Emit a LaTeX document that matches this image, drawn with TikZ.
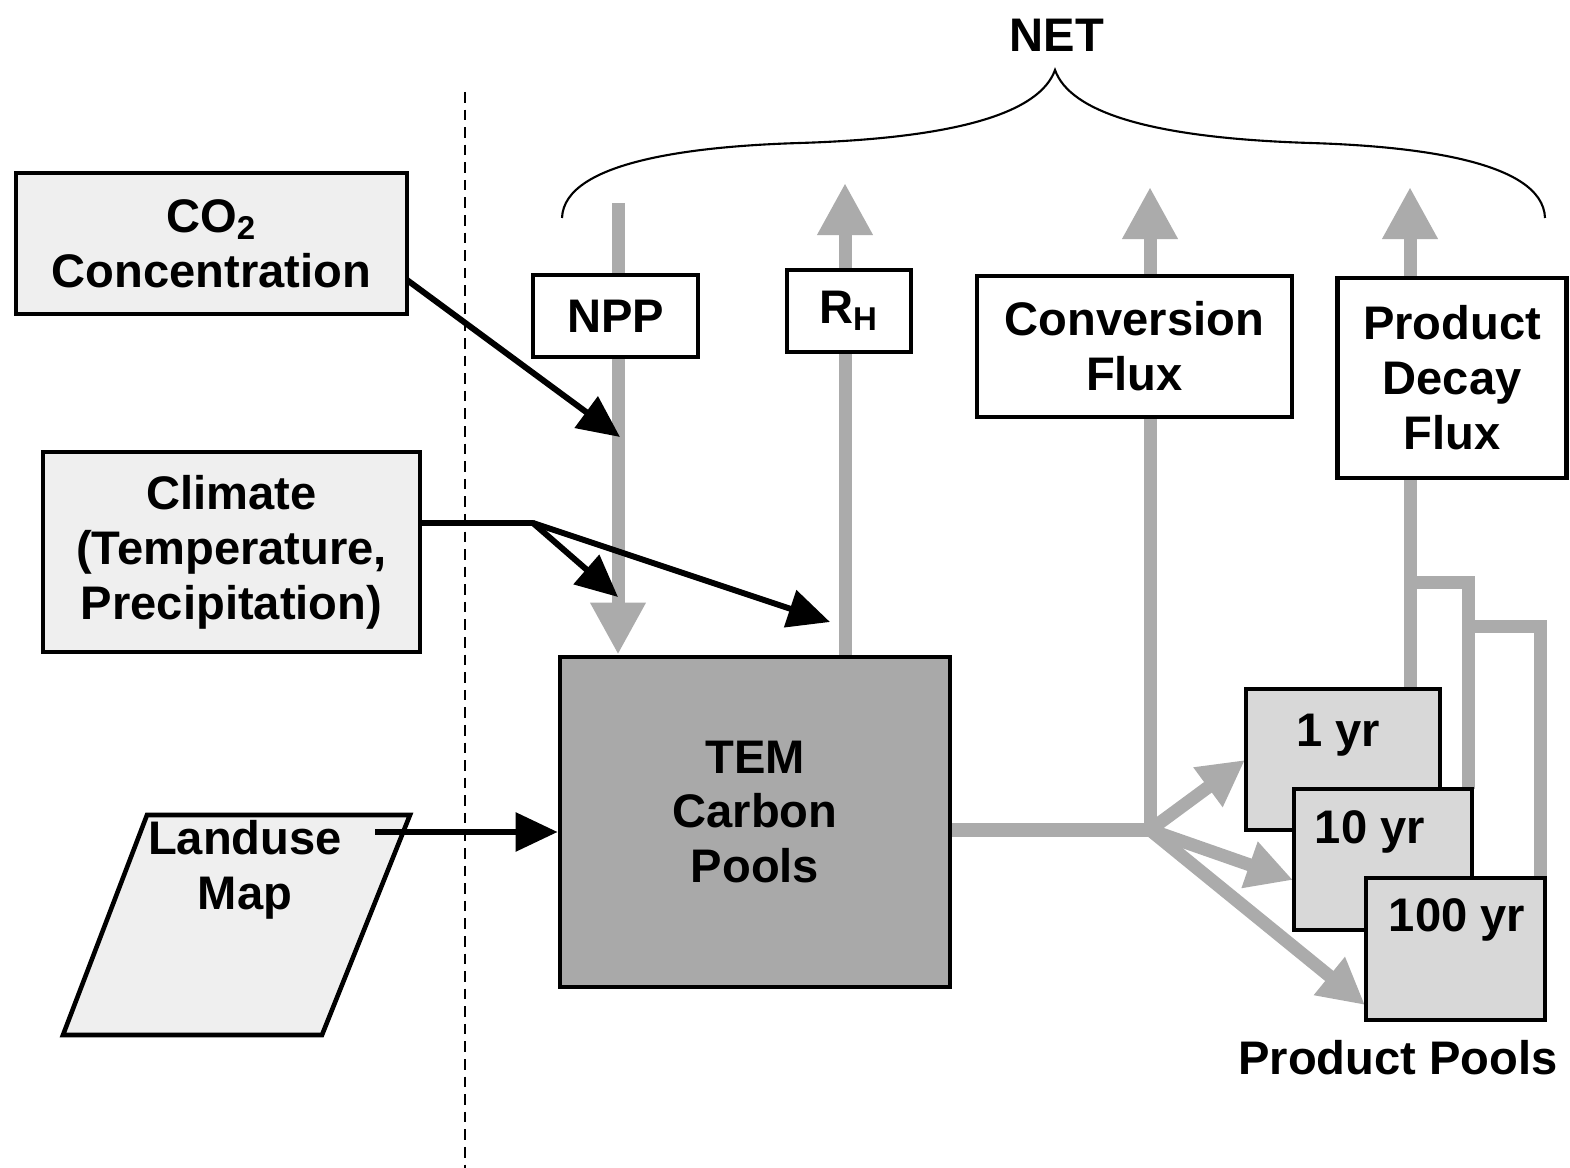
\documentclass[tikz,border=0pt]{standalone}
\usepackage{fontspec}
\setmainfont{Liberation Sans}
\usetikzlibrary{arrows.meta}
\definecolor{fluxgray}{HTML}{ABABAB}
\definecolor{lightbox}{HTML}{EFEFEF}
\definecolor{poolfill}{HTML}{D8D8D8}
\definecolor{temfill}{HTML}{A9A9A9}
\newcommand\diagfont{\fontsize{13.4}{15.6}\selectfont\bfseries}
\tikzset{
  lbl/.style={font=\diagfont, align=center, inner sep=0pt},
  boxed/.style={lbl, draw=black, line width=1.3pt},
  inbox/.style={boxed, fill=lightbox},
  fluxbox/.style={boxed, fill=white},
  poolbox/.style={draw=black, line width=1.3pt, fill=poolfill, inner sep=0pt},
  flux/.style={draw=fluxgray, line width=3.7pt},
  fluxarrow/.style={flux, -{Triangle[length=5.2mm,width=5.2mm]}},
  poolarrow/.style={flux, -{Triangle[length=4.6mm,width=4.6mm]}},
  blk/.style={draw=black, line width=1.7pt, line join=round, -{Triangle[length=4.2mm,width=3.8mm]}},
}
\begin{document}
\begin{tikzpicture}[x=0.01cm,y=-0.01cm]
\useasboundingbox (0,0) rectangle (1570,1168);

% dashed divider
\draw[line width=0.6pt, dash pattern=on 3pt off 2pt] (465,92) -- (465,1168);

% brace
\draw[line width=0.6pt] (562,218) .. controls (564,160) and (700,146) .. (800,143)
  .. controls (960,138) and (1040,112) .. (1055,70)
  .. controls (1070,112) and (1150,138) .. (1310,143)
  .. controls (1410,146) and (1543,160) .. (1545,218);
\node[lbl] (net) at (1057,35) {NET};

% main nodes
\node[boxed, fill=temfill, minimum width=3.9cm, minimum height=3.3cm] (tem) at (755,822) {};
\node[lbl] (temtxt) at (755,812) {TEM\\Carbon\\Pools};

% coordinates
\coordinate (npptop) at (618,203);
\coordinate (J) at (1150,830);
\coordinate (rhtip) at (845,183);
\coordinate (convtip) at (1150,187);
\coordinate (pdftip) at (1410,187);
\coordinate (dec1) at (1410,583);
\coordinate (dec2) at (1468,583);
\coordinate (dec3) at (1468,627);
\coordinate (dec4) at (1540,627);
\coordinate (p1tip) at (1245,760);
\coordinate (p10tip) at (1293,880);
\coordinate (p100tip) at (1365,1005);

% gray flux lines
\draw[fluxarrow] (npptop) -- (npptop |- tem.north);
\draw[fluxarrow] (tem.north -| rhtip) -- (rhtip);
\draw[flux] (J -| tem.east) -- (J);
\draw[fluxarrow] (J) -- (convtip);
\draw[poolarrow] (J) -- (p1tip);
\draw[poolarrow] (J) -- (p10tip);
\draw[poolarrow] (J) -- (p100tip);
\draw[fluxarrow] (1410,689) -- (pdftip);
\draw[flux] (1468,789) -- (dec3) -- (dec2) -- (dec1);
\draw[flux] (1540,878) -- (dec4) -- (dec3);

% flux boxes
\node[fluxbox, minimum width=1.65cm, minimum height=0.82cm] (npp) at (615.5,316) {NPP};
\node[fluxbox, minimum width=1.24cm, minimum height=0.82cm] (rh) at (849,311) {R\textsubscript{H}};
\node[fluxbox, minimum width=3.15cm, minimum height=1.41cm] (conv) at (1134.5,346.5) {Conversion\\Flux};
\node[fluxbox, minimum width=2.29cm, minimum height=2.0cm] (pdf) at (1452,378) {Product\\Decay\\Flux};

% product pools
\node[poolbox, minimum width=1.94cm, minimum height=1.41cm] (p1) at (1343,759.5) {};
\node[lbl] (p1t) at (1338,735) {1 yr};
\node[poolbox, minimum width=1.78cm, minimum height=1.41cm] (p10) at (1383,859.5) {};
\node[lbl] (p10t) at (1370,832) {10 yr};
\node[poolbox, minimum width=1.79cm, minimum height=1.42cm] (p100) at (1455.5,949) {};
\node[lbl] (p100t) at (1457,920) {100 yr};
\node[lbl] (pools) at (1398,1058) {Product Pools};

% input boxes
\node[inbox, minimum width=3.91cm, minimum height=1.41cm] (co2) at (211.5,243.5) {CO\textsubscript{2}\\Concentration};
\node[inbox, minimum width=3.77cm, minimum height=2.0cm] (clim) at (231.5,552) {Climate\\(Temperature,\\Precipitation)};

% landuse parallelogram
\coordinate (la) at (147,815);
\coordinate (lb) at (410,815);
\coordinate (lc) at (322,1035);
\coordinate (ld) at (63,1035);
\draw[line width=1.3pt, fill=lightbox, line join=miter] (la) -- (lb) -- (lc) -- (ld) -- cycle;
\node[lbl] (land) at (245,870) {Landuse\\Map};

% black driver arrows
\coordinate (co2out) at (407,280);
\coordinate (co2tip) at (620,437);
\coordinate (climout) at (420,523);
\coordinate (climj) at (533,523);
\coordinate (climtipA) at (618,597);
\coordinate (climtipB) at (830,622);
\coordinate (landout) at (375,832);
\draw[blk] (co2out) -- (co2tip);
\draw[blk] (climout) -- (climj) -- (climtipA);
\draw[blk] (climj) -- (climtipB);
\draw[blk] (landout) -- (landout -| tem.west);
\end{tikzpicture}
\end{document}
